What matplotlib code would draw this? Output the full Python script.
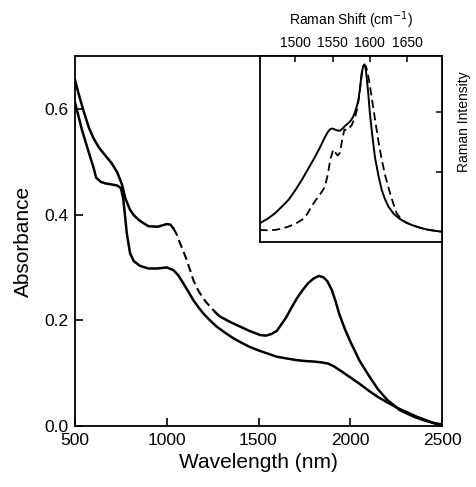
import numpy as np
import matplotlib
matplotlib.use("Agg")
import matplotlib.pyplot as plt

plt.rcParams['font.family'] = ['Liberation Sans', 'DejaVu Sans']

# ---- main absorbance spectra ----
wl_a = [500, 520, 545, 575, 600, 630, 660, 700, 730, 756, 775, 800, 820, 850, 900, 950,
        1000, 1020, 1036, 1055, 1072, 1090, 1109, 1127, 1145, 1163, 1181, 1208, 1236,
        1265, 1290, 1350, 1400, 1450, 1480, 1510, 1540, 1570, 1600, 1620, 1650, 1680,
        1710, 1740, 1770, 1800, 1830, 1855, 1875, 1900, 1920, 1940, 1970, 2000, 2050,
        2100, 2150, 2200, 2270, 2350, 2400, 2450, 2500]
abs_a = [0.655, 0.628, 0.598, 0.565, 0.545, 0.527, 0.514, 0.497, 0.480, 0.457, 0.430,
         0.409, 0.399, 0.389, 0.378, 0.377, 0.382, 0.381, 0.374, 0.362, 0.346, 0.331,
         0.314, 0.295, 0.276, 0.262, 0.251, 0.237, 0.226, 0.215, 0.207, 0.196, 0.188,
         0.180, 0.176, 0.172, 0.171, 0.174, 0.180, 0.190, 0.205, 0.224, 0.242, 0.257,
         0.270, 0.279, 0.284, 0.281, 0.274, 0.257, 0.236, 0.212, 0.184, 0.160, 0.124,
         0.096, 0.070, 0.050, 0.030, 0.017, 0.011, 0.006, 0.003]
dash_range = (1036, 1265)

wl_b = [500, 520, 538, 560, 580, 600, 615, 640, 665, 700, 730, 750, 762, 772, 782, 800,
        820, 854, 900, 950, 1000, 1036, 1063, 1090, 1118, 1145, 1172, 1199, 1235, 1272,
        1320, 1363, 1410, 1450, 1500, 1550, 1600, 1650, 1700, 1750, 1800, 1850, 1880,
        1910, 1950, 2000, 2050, 2100, 2150, 2200, 2270, 2360, 2450, 2500]
abs_b = [0.612, 0.585, 0.560, 0.535, 0.512, 0.490, 0.470, 0.462, 0.459, 0.457, 0.455,
         0.450, 0.432, 0.400, 0.365, 0.327, 0.312, 0.303, 0.298, 0.298, 0.300, 0.295,
         0.285, 0.270, 0.254, 0.238, 0.225, 0.213, 0.200, 0.188, 0.176, 0.166, 0.157,
         0.150, 0.143, 0.137, 0.131, 0.128, 0.125, 0.123, 0.122, 0.120, 0.118, 0.113,
         0.104, 0.092, 0.080, 0.067, 0.055, 0.045, 0.032, 0.018, 0.006, 0.001]

x_ticks = [500, 1000, 1500, 2000, 2500]
y_ticks = [0.0, 0.2, 0.4, 0.6]

# ---- inset Raman spectra ----
rs_solid = [1452, 1463, 1473, 1482, 1491, 1500, 1509, 1518, 1527, 1534, 1540, 1544,
            1547, 1550, 1553, 1556, 1560, 1564, 1567, 1571, 1574, 1577, 1580, 1583,
            1585, 1587, 1589, 1591, 1593, 1595, 1598, 1600, 1603, 1607, 1612, 1616,
            1620, 1625, 1632, 1639, 1647, 1656, 1668, 1679, 1697]
ri_solid = [0.100, 0.125, 0.155, 0.190, 0.227, 0.278, 0.335, 0.398, 0.461, 0.515,
            0.565, 0.593, 0.607, 0.610, 0.605, 0.600, 0.598, 0.612, 0.625, 0.638,
            0.650, 0.668, 0.696, 0.735, 0.768, 0.830, 0.903, 0.945, 0.955, 0.920,
            0.800, 0.700, 0.588, 0.455, 0.350, 0.281, 0.235, 0.191, 0.152, 0.128,
            0.108, 0.092, 0.076, 0.065, 0.055]
rs_dash = [1452, 1463, 1473, 1482, 1491, 1500, 1509, 1516, 1522, 1527, 1531, 1536,
           1540, 1544, 1547, 1551, 1554, 1557, 1560, 1563, 1566, 1569, 1573, 1576,
           1580, 1583, 1586, 1588, 1590, 1592, 1595, 1598, 1601, 1605, 1609, 1612,
           1616, 1621, 1626, 1630, 1636, 1643, 1650, 1660, 1675, 1697]
ri_dash = [0.065, 0.063, 0.065, 0.072, 0.083, 0.098, 0.119, 0.150, 0.191, 0.222,
           0.245, 0.272, 0.299, 0.370, 0.443, 0.497, 0.480, 0.465, 0.480, 0.550,
           0.605, 0.600, 0.615, 0.630, 0.668, 0.714, 0.790, 0.858, 0.920, 0.950,
           0.945, 0.894, 0.820, 0.714, 0.610, 0.533, 0.445, 0.353, 0.280, 0.227,
           0.155, 0.119, 0.102, 0.086, 0.068, 0.055]
inset_x_ticks = [1500, 1550, 1600, 1650]
inset_y_ticks = [0.378, 0.697]

W, H = 476, 487
fig = plt.figure(figsize=(W / 100, H / 100), dpi=100)

def fx(px):
    return px / W

def fy(py):
    return 1 - py / H

ax = fig.add_axes([fx(75), fy(426), fx(442) - fx(75), fy(56) - fy(426)])
wa = np.array(wl_a)
aa = np.array(abs_a)
i0 = int(np.where(wa == dash_range[0])[0][0])
i1 = int(np.where(wa == dash_range[1])[0][0])
ax.plot(wa[:i0 + 1], aa[:i0 + 1], color='black', lw=1.8, solid_joinstyle='round')
ax.plot(wa[i0:i1 + 1], aa[i0:i1 + 1], color='black', lw=1.5, dashes=(4, 2.2))
ax.plot(wa[i1:], aa[i1:], color='black', lw=1.8, solid_joinstyle='round')
ax.plot(wl_b, abs_b, color='black', lw=1.8, solid_joinstyle='round')

ax.set_xlim(500, 2500)
ax.set_ylim(0, 0.7)
ax.set_xticks(x_ticks)
ax.set_yticks(y_ticks)
ax.set_yticklabels([f"{v:.1f}" for v in y_ticks])
ax.tick_params(direction='in', length=5.5, width=1.2, labelsize=12.5, top=False, right=False, pad=5)
for s in ax.spines.values():
    s.set_linewidth(1.3)
ax.set_xlabel('Wavelength (nm)', fontsize=15, labelpad=4)
ax.set_ylabel('Absorbance', fontsize=15, labelpad=8)

# inset
ins = fig.add_axes([fx(259.5), fy(242), fx(442) - fx(259.5), fy(56) - fy(242)])
ins.plot(rs_solid, ri_solid, color='black', lw=1.4, solid_joinstyle='round')
ins.plot(rs_dash, ri_dash, color='black', lw=1.3, dashes=(4.5, 2.5))
ins.set_xlim(1452, 1697)
ins.set_ylim(0, 1)
ins.set_xticks(inset_x_ticks)
ins.set_yticks(inset_y_ticks)
ins.xaxis.tick_top()
ins.yaxis.tick_right()
ins.tick_params(direction='in', length=4, width=1.1, labelsize=10, pad=4)
ins.tick_params(axis='y', labelright=False, labelleft=False)
ins.set_xlabel('Raman Shift (cm$^{-1}$)', fontsize=10, labelpad=8)
ins.xaxis.set_label_position('top')
for s in ins.spines.values():
    s.set_linewidth(1.3)

fig.text(fx(464), fy(122), 'Raman Intensity', rotation=90, ha='center', va='center', fontsize=10)

fig.savefig('out.png', dpi=100)
